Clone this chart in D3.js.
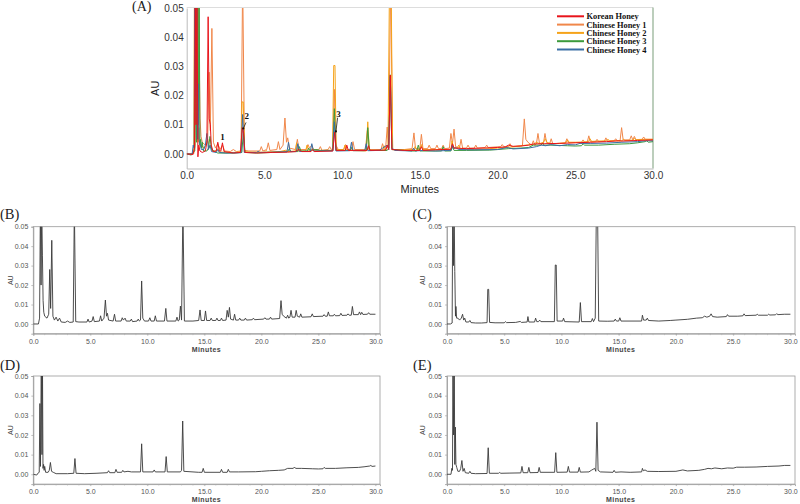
<!DOCTYPE html>
<html><head><meta charset="utf-8">
<script src="https://cdn.jsdelivr.net/npm/d3@7"></script>
<style>body{margin:0;background:#fff}svg{display:block}</style>
</head><body>
<svg id="c" width="800" height="504"></svg>
<script>
// ---- data: [minutes, AU] ----
const koreanHoney = [[0,0.0],[0.4,-0.0002],[0.5,0.002],[0.55,0.06],[0.6,0.01],[0.66,0.06],[0.72,-0.001],[0.78,0.003],[0.85,0.001],[1.0,0.0005],[1.2,0.001],[1.3,0.004],[1.38,0.047],[1.45,0.012],[1.52,0.01],[1.58,0.003],[1.7,0.0008],[1.9,0.001],[2.0,0.004],[2.1,0.001],[2.2,0.001],[2.3,0.0038],[2.4,0.0008],[3.0,0.0003],[3.45,0.0005],[3.58,0.009],[3.66,0.007],[3.74,0.0005],[4.5,0.0003],[5.5,0.0005],[6.5,0.0006],[7.0,0.0008],[7.2,0.0015],[7.4,0.0008],[8.0,0.0008],[8.1,0.0015],[8.2,0.0008],[9.4,0.001],[9.52,0.0075],[9.62,0.0012],[10.2,0.0012],[10.3,0.003],[10.4,0.0012],[11.6,0.0012],[11.7,0.0028],[11.8,0.0012],[12.8,0.0013],[12.9,0.003],[13.0,0.0015],[13.1,0.027],[13.2,0.0015],[14.0,0.0012],[15.0,0.0012],[15.1,0.0025],[15.2,0.0012],[16.0,0.0014],[17.0,0.0016],[17.1,0.0035],[17.2,0.002],[18.0,0.0018],[19.0,0.002],[20.0,0.0022],[20.5,0.0024],[20.7,0.003],[21.0,0.0026],[21.5,0.0027],[22.0,0.003],[22.3,0.0034],[23.0,0.0035],[24.0,0.0036],[25.0,0.0038],[26.0,0.004],[27.0,0.0042],[27.8,0.0045],[28.0,0.0044],[29.0,0.0046],[30.0,0.0048]];

const chineseHoney1 = [[0,0.0],[0.45,0.0],[0.55,0.003],[0.62,0.06],[0.68,0.02],[0.74,0.06],[0.8,0.035],[0.86,0.012],[0.92,0.006],[1.0,0.004],[1.2,0.003],[1.35,0.005],[1.44,0.028],[1.52,0.008],[1.62,0.043],[1.72,0.004],[1.85,0.002],[2.0,0.0035],[2.15,0.0015],[2.3,0.003],[2.45,0.001],[2.8,0.0008],[3.0,0.0015],[3.2,0.0008],[3.5,0.001],[3.6,0.06],[3.72,0.0012],[4.0,0.001],[4.7,0.001],[4.8,0.0025],[4.9,0.001],[5.15,0.0015],[5.25,0.0038],[5.35,0.0012],[5.8,0.0015],[5.9,0.0042],[6.0,0.0015],[6.2,0.003],[6.32,0.0123],[6.42,0.004],[6.5,0.0055],[6.6,0.002],[7.0,0.0015],[7.12,0.005],[7.22,0.0015],[7.7,0.0015],[7.8,0.0032],[7.9,0.002],[8.05,0.003],[8.15,0.0015],[8.5,0.0015],[8.6,0.0025],[8.7,0.0012],[9.1,0.0015],[9.2,0.0025],[9.3,0.0015],[9.4,0.002],[9.5,0.0221],[9.6,0.003],[9.75,0.0015],[10.1,0.0015],[10.22,0.0032],[10.32,0.0015],[10.6,0.0015],[10.7,0.0042],[10.8,0.0015],[11.5,0.0015],[11.62,0.008],[11.72,0.0015],[12.5,0.0015],[12.6,0.0035],[12.7,0.0015],[12.8,0.002],[12.9,0.0092],[13.0,0.002],[13.12,0.06],[13.25,0.0015],[14.0,0.0015],[14.5,0.0018],[14.62,0.0072],[14.72,0.0018],[15.0,0.0018],[15.1,0.0067],[15.2,0.0018],[15.5,0.0018],[15.6,0.003],[15.7,0.0018],[16.0,0.0018],[16.1,0.003],[16.2,0.0018],[16.4,0.0018],[16.5,0.003],[16.6,0.0018],[16.9,0.002],[17.0,0.007],[17.1,0.0035],[17.2,0.0085],[17.3,0.0025],[17.55,0.002],[17.65,0.005],[17.75,0.002],[18.0,0.002],[18.1,0.003],[18.2,0.002],[18.5,0.002],[18.6,0.003],[18.7,0.002],[19.2,0.0022],[19.3,0.003],[19.4,0.0022],[20.2,0.0025],[20.3,0.0032],[20.4,0.0025],[20.7,0.0025],[20.8,0.0035],[20.9,0.0025],[21.6,0.0028],[21.72,0.012],[21.82,0.005],[21.95,0.004],[22.2,0.003],[22.3,0.0045],[22.4,0.003],[22.5,0.0035],[22.6,0.007],[22.7,0.0035],[22.95,0.0035],[23.05,0.007],[23.15,0.004],[23.35,0.0035],[23.45,0.0052],[23.55,0.0035],[24.35,0.0037],[24.46,0.0052],[24.56,0.0038],[25.4,0.004],[25.5,0.0048],[25.6,0.004],[25.77,0.004],[25.87,0.0062],[25.97,0.0042],[26.3,0.0042],[26.4,0.005],[26.5,0.0042],[26.87,0.0043],[26.97,0.0055],[27.07,0.0044],[27.5,0.0045],[27.6,0.0052],[27.7,0.0045],[27.88,0.0045],[27.98,0.009],[28.08,0.0048],[28.5,0.0048],[28.6,0.0062],[28.7,0.0048],[28.8,0.006],[28.9,0.0049],[29.3,0.005],[29.4,0.0058],[29.5,0.005],[30.0,0.005]];

const chineseHoney2 = [[0,0.0],[0.3,0.0],[0.45,0.0005],[0.5,0.06],[0.56,0.03],[0.62,0.06],[0.68,0.027],[0.74,0.004],[0.78,0.009],[0.84,0.003],[0.95,0.003],[1.1,0.002],[1.25,0.003],[1.36,0.005],[1.46,0.002],[1.55,0.003],[1.65,0.001],[1.9,0.001],[2.0,0.0018],[2.1,0.0007],[2.5,0.0005],[3.0,0.0005],[3.5,0.0007],[3.56,0.0178],[3.64,0.0178],[3.72,0.0008],[4.2,0.0006],[5.0,0.0006],[5.1,0.0012],[5.2,0.0007],[6.0,0.0008],[6.4,0.0013],[6.5,0.0008],[7.0,0.001],[7.07,0.0038],[7.15,0.001],[7.65,0.001],[7.74,0.003],[7.84,0.0012],[8.0,0.0012],[8.1,0.002],[8.2,0.0012],[9.38,0.0012],[9.46,0.0303],[9.54,0.0303],[9.62,0.0015],[10.1,0.0015],[10.18,0.003],[10.28,0.0012],[11.55,0.001],[11.65,0.011],[11.75,0.0012],[12.6,0.0012],[12.7,0.0028],[12.8,0.0012],[12.95,0.003],[13.05,0.06],[13.15,0.06],[13.25,0.0015],[14.0,0.0014],[14.6,0.0015],[14.7,0.0025],[14.8,0.0015],[15.0,0.0015],[15.1,0.0032],[15.2,0.0015],[17.0,0.0015],[17.07,0.0045],[17.17,0.002],[17.4,0.002],[17.5,0.003],[17.6,0.0018],[18.5,0.0015],[19.5,0.0018],[20.0,0.002],[21.0,0.0024],[21.8,0.003],[22.3,0.0032],[22.5,0.004],[22.7,0.0035],[22.95,0.004],[23.07,0.0052],[23.2,0.0038],[23.6,0.0035],[24.4,0.0038],[24.5,0.0048],[24.6,0.004],[25.4,0.004],[25.85,0.0042],[25.95,0.0052],[26.05,0.0043],[27.0,0.0045],[27.1,0.005],[27.2,0.0045],[28.0,0.0045],[28.1,0.005],[28.2,0.0046],[28.7,0.0047],[28.8,0.0053],[28.9,0.0048],[29.5,0.005],[30.0,0.005]];

const chineseHoney3 = [[0,0.0],[0.3,-0.0004],[0.45,0.0008],[0.52,0.001],[0.58,0.036],[0.63,0.004],[0.7,0.06],[0.76,0.01],[0.8,0.06],[0.85,0.003],[0.9,0.005],[0.95,0.002],[1.0,0.004],[1.08,0.001],[1.3,0.001],[1.4,0.002],[1.5,0.006],[1.6,0.0015],[1.75,0.001],[2.0,0.0003],[3.0,0.0003],[3.55,0.0005],[3.65,0.008],[3.75,0.0005],[4.5,0.0003],[5.5,0.0005],[6.5,0.0008],[6.6,0.0018],[6.7,0.0008],[7.15,0.0008],[7.25,0.0025],[7.35,0.001],[7.75,0.001],[7.85,0.002],[7.95,0.0012],[8.3,0.0015],[8.6,0.0012],[9.4,0.0012],[9.5,0.0155],[9.6,0.0012],[10.5,0.0012],[10.6,0.0022],[10.7,0.0012],[11.55,0.0012],[11.65,0.009],[11.75,0.0012],[12.9,0.0012],[13.0,0.002],[13.1,0.0271],[13.2,0.0015],[14.5,0.001],[14.8,0.001],[14.9,0.003],[15.0,0.001],[16.4,0.001],[16.5,0.0025],[16.6,0.001],[17.0,0.001],[17.1,0.0025],[17.2,0.0012],[18.0,0.0012],[19.5,0.0013],[20.0,0.0015],[20.7,0.0018],[21.5,0.002],[22.0,0.0022],[22.3,0.003],[22.8,0.003],[22.9,0.0037],[23.0,0.003],[23.5,0.003],[24.5,0.0028],[25.0,0.0027],[25.4,0.0028],[25.5,0.0035],[25.6,0.003],[26.5,0.003],[27.5,0.0033],[28.5,0.0035],[29.0,0.0038],[29.5,0.0042],[29.6,0.0045],[29.7,0.004],[30.0,0.0042]];

const chineseHoney4 = [[0,0.0],[0.35,0.0],[0.42,0.003],[0.48,0.002],[0.52,0.06],[0.58,0.02],[0.63,0.06],[0.68,0.005],[0.73,0.024],[0.78,0.005],[0.85,0.0035],[0.95,0.0015],[1.1,0.0015],[1.2,0.003],[1.3,0.007],[1.4,0.0015],[1.5,0.003],[1.6,0.0008],[1.9,0.0005],[2.0,0.0015],[2.1,0.0005],[2.5,0.0003],[3.5,0.0004],[3.6,0.0135],[3.7,0.0005],[4.5,0.0005],[4.6,0.0009],[4.7,0.0005],[5.5,0.0006],[6.45,0.0007],[6.55,0.004],[6.65,0.0008],[7.05,0.0008],[7.15,0.0035],[7.25,0.0008],[7.95,0.0009],[8.05,0.0035],[8.15,0.001],[9.4,0.001],[9.5,0.011],[9.6,0.001],[10.5,0.0011],[10.6,0.004],[10.7,0.0011],[11.45,0.0011],[11.55,0.0035],[11.65,0.0011],[12.4,0.0012],[12.6,0.002],[12.9,0.003],[13.0,0.0015],[13.1,0.0265],[13.2,0.002],[13.4,0.0012],[14.5,0.001],[14.6,0.002],[14.7,0.001],[15.2,0.0012],[16.0,0.001],[17.0,0.0012],[17.07,0.003],[17.15,0.0018],[17.3,0.0022],[17.5,0.0015],[18.5,0.0014],[20.0,0.0015],[20.6,0.0022],[21.0,0.0017],[22.0,0.002],[22.5,0.0025],[22.8,0.003],[23.1,0.0028],[23.4,0.0032],[24.0,0.0028],[24.5,0.0032],[25.0,0.0031],[25.3,0.0036],[26.0,0.0036],[27.0,0.0037],[28.0,0.004],[29.0,0.0042],[29.5,0.0045],[30.0,0.0045]];

const seriesNames = ["Korean Honey","Chinese Honey 1","Chinese Honey 2","Chinese Honey 3","Chinese Honey 4"];
const seriesColors = ["#e8141b","#f0874a","#f5a31a","#3c9a3c","#3a6ea5"];
const seriesData = [koreanHoney, chineseHoney1, chineseHoney2, chineseHoney3, chineseHoney4];
const xTickValues = [0,5,10,15,20,25,30];
const yTickValues = [0,0.01,0.02,0.03,0.04,0.05];
const panelLabels = ["(A)","(B)","(C)","(D)","(E)"];
const peakLabels = [{text:"1", t:2.3, v:0.0046}, {text:"2", t:3.86, v:0.0121, at:[3.82,0.0108], to:[3.64,0.0087]}, {text:"3", t:9.76, v:0.0127, at:[9.71,0.0124], to:[9.6,0.0077]}];

// ---- drawing ----
const svg = d3.select("#c");
const SANS = "'Liberation Sans', Arial, sans-serif";
const SERIF = "'Liberation Serif', 'Times New Roman', serif";

function panel(o){
  const x = d3.scaleLinear().domain(o.xd).range([o.l, o.r]);
  const y = d3.scaleLinear().domain([-0.005, 0.05]).range([o.b, o.t]);
  const g = svg.append("g");
  const cid = "clip" + o.key;
  svg.append("clipPath").attr("id", cid).append("rect")
    .attr("x", o.l).attr("y", o.t).attr("width", o.r - o.l).attr("height", o.b - o.t);

  // frame
  if (o.big){
    g.append("line").attr("x1",o.l).attr("x2",o.r).attr("y1",o.t-0.5).attr("y2",o.t-0.5).attr("stroke","#ddd");
    g.append("line").attr("x1",o.r).attr("x2",o.r).attr("y1",o.t-0.5).attr("y2",o.b).attr("stroke","#8fae8f").attr("stroke-width",1.2);
  } else {
    g.append("rect").attr("x",o.l).attr("y",o.t).attr("width",o.r-o.l).attr("height",o.b-o.t)
      .attr("fill","none").attr("stroke","#9a9a9a").attr("stroke-width",0.8);
  }

  // axes
  const ax = g.append("g").attr("transform",`translate(0,${o.b})`)
    .call(d3.axisBottom(x).tickValues(xTickValues).tickFormat(d3.format(".1f")).tickSize(o.big?0:2).tickPadding(3));
  const ay = g.append("g").attr("transform",`translate(${o.l},0)`)
    .call(d3.axisLeft(y).tickValues(yTickValues).tickFormat(d3.format(".2f")).tickSize(o.big?0:2).tickPadding(3));
  [ax, ay].forEach(a => {
    a.select(".domain").attr("stroke", o.big ? "#bbb" : "#9a9a9a").attr("stroke-width", o.big?1:0.8);
    a.selectAll(".tick line").attr("stroke","#999").attr("stroke-width",0.6);
    a.selectAll("text").attr("font-family", SANS).attr("font-size", o.big?10:7).attr("fill", o.big?"#333":"#555");
  });
  if (!o.big){
    // minor ticks on time axis
    g.append("g").selectAll("line").data(d3.range(0, 31, 1)).join("line")
      .attr("x1", d=>x(d)).attr("x2", d=>x(d)).attr("y1", o.b).attr("y2", o.b+1.5)
      .attr("stroke","#aaa").attr("stroke-width",0.5);
  }

  // axis titles
  g.append("text").attr("x", (o.l + (o.big? o.r : x(30)))/2 + (o.big?0:2)).attr("y", o.b + (o.big?24.5:18))
    .attr("text-anchor","middle").attr("font-family",SANS)
    .attr("font-size", o.big?11:7).attr("font-weight", o.big?"normal":"bold")
    .attr("letter-spacing", o.big?0:0.4).attr("fill", o.big?"#222":"#444").text("Minutes");
  g.append("text").attr("transform",`translate(${o.auX},${(o.t+o.b)/2}) rotate(-90)`)
    .attr("text-anchor","middle").attr("font-family",SANS)
    .attr("font-size", o.big?11:7).attr("fill", o.big?"#222":"#444").text("AU");

  // panel label
  g.append("text").attr("x", o.labX).attr("y", o.labY).attr("font-family",SERIF)
    .attr("font-size", o.labSize).attr("fill","#222").text(o.label);

  // traces
  const line = d3.line().x(d => x(d[0])).y(d => y(d[1]));
  const tg = g.append("g").attr("clip-path", `url(#${cid})`);
  o.series.forEach(s => {
    tg.append("path").attr("d", line(s.data)).attr("fill","none")
      .attr("stroke", s.color).attr("stroke-width", s.w).attr("stroke-linejoin","round");
  });
  return {x, y, g};
}

// Panel A: overlay (Chinese 1..4 first, Korean on top)
const order = [1,2,3,4,0];
const A = panel({key:"A", big:true, l:186.7, r:653, t:8, b:168.5, xd:[0,30], auX:159,
  label:panelLabels[0], labX:132, labY:10.7, labSize:14,
  series: order.map(i => ({data: seriesData[i], color: seriesColors[i], w: 1}))});

// legend
const lg = svg.append("g");
seriesNames.forEach((n, i) => {
  const yy = 16.3 + i * 8.3;
  lg.append("line").attr("x1", 557).attr("x2", 584).attr("y1", yy).attr("y2", yy)
    .attr("stroke", seriesColors[i]).attr("stroke-width", 2);
  lg.append("text").attr("x", 586.5).attr("y", yy + 3).attr("font-family", SERIF)
    .attr("font-weight","bold").attr("font-size", 8.4).attr("fill","#111").text(n);
});

// peak annotations
peakLabels.forEach(p => {
  A.g.append("text").attr("x", A.x(p.t)).attr("y", A.y(p.v)).attr("text-anchor","middle")
    .attr("font-family", SERIF).attr("font-weight","bold").attr("font-size", 9).attr("fill","#111").text(p.text);
  if (p.at){
    A.g.append("line").attr("x1", A.x(p.at[0])).attr("y1", A.y(p.at[1]))
      .attr("x2", A.x(p.to[0])).attr("y2", A.y(p.to[1])).attr("stroke","#222").attr("stroke-width",0.8);
    A.g.append("circle").attr("cx", A.x(p.to[0])).attr("cy", A.y(p.to[1])).attr("r", 1.1).attr("fill","#111");
  }
});

// Panels B..E: single traces
const small = [
  {key:"B", l:33.3, r:380, t:226.7, b:333.7, auX:13, labX:0, labY:218.5, data:chineseHoney1},
  {key:"C", l:447, r:795, t:226.7, b:333.7, auX:425, labX:412.5, labY:218.5, data:chineseHoney2},
  {key:"D", l:33.3, r:380, t:376, b:484.1, auX:13, labX:0, labY:369.5, data:chineseHoney3},
  {key:"E", l:447, r:795, t:376, b:484.1, auX:425, labX:413, labY:369.5, data:chineseHoney4}
];
small.forEach((p, i) => {
  panel({key:p.key, big:false, l:p.l, r:p.r, t:p.t, b:p.b, xd:[0,30.4], auX:p.auX,
    label:panelLabels[i+1], labX:p.labX, labY:p.labY, labSize:14.5,
    series:[{data:p.data, color:"#3a3a3a", w:0.9}]});
});
</script>
</body></html>
